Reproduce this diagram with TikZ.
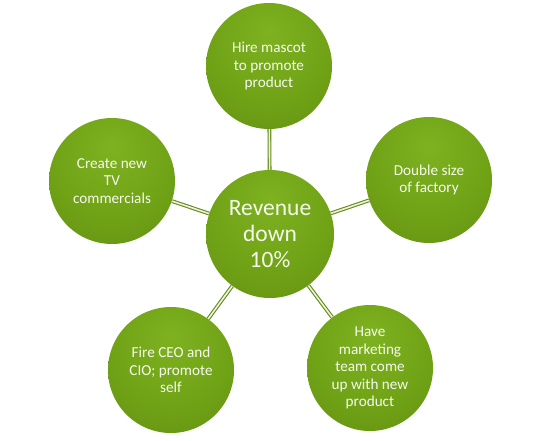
\documentclass[tikz,border=0pt]{standalone}
\usepackage{fontspec}
\setmainfont{Carlito}
\usetikzlibrary{backgrounds}
\definecolor{gA}{RGB}{126,178,32}
\definecolor{gB}{RGB}{112,162,22}
\definecolor{gC}{RGB}{94,140,16}
\definecolor{gD}{RGB}{70,108,10}
\definecolor{lineG}{RGB}{100,140,26}
\definecolor{lineL}{RGB}{236,242,220}
\definecolor{txt}{RGB}{246,250,238}
\pgfdeclareradialshading{ballgreen}{\pgfpoint{0bp}{14bp}}{color(0bp)=(gA); color(24bp)=(gB); color(46bp)=(gC); color(60bp)=(gD); color(70bp)=(gD)}
\tikzset{
  ball/.style={circle, minimum size=126pt, inner sep=0pt, shading=ballgreen,
    text=txt, align=center, font=\fontsize{15.2}{17.5}\selectfont},
  bigball/.style={ball, minimum size=128pt, font=\fontsize{23.5}{26}\selectfont},
  link/.style={draw=lineG, line width=1.1pt, double=lineL, double distance=1.6pt}
}
\begin{document}
\begin{tikzpicture}[x=1pt,y=-1pt]
\useasboundingbox (0,0) rectangle (540,441);
\node[bigball] (c) at (270,234) {Revenue\\down\\10\%};
\node[ball] (t) at (269,66) {Hire mascot\\to promote\\product};
\node[ball] (r) at (429,180) {Double size\\of factory};
\node[ball] (br) at (370,368) {Have\\marketing\\team come\\up with new\\product};
\node[ball] (bl) at (171,370) {Fire CEO and\\CIO; promote\\self};
\node[ball] (l) at (112,181) {Create new\\TV\\commercials};
\begin{scope}[on background layer]
\draw[link] (c) -- (t);
\draw[link] (c) -- (r);
\draw[link] (c) -- (br);
\draw[link] (c) -- (bl);
\draw[link] (c) -- (l);
\end{scope}
\end{tikzpicture}
\end{document}
